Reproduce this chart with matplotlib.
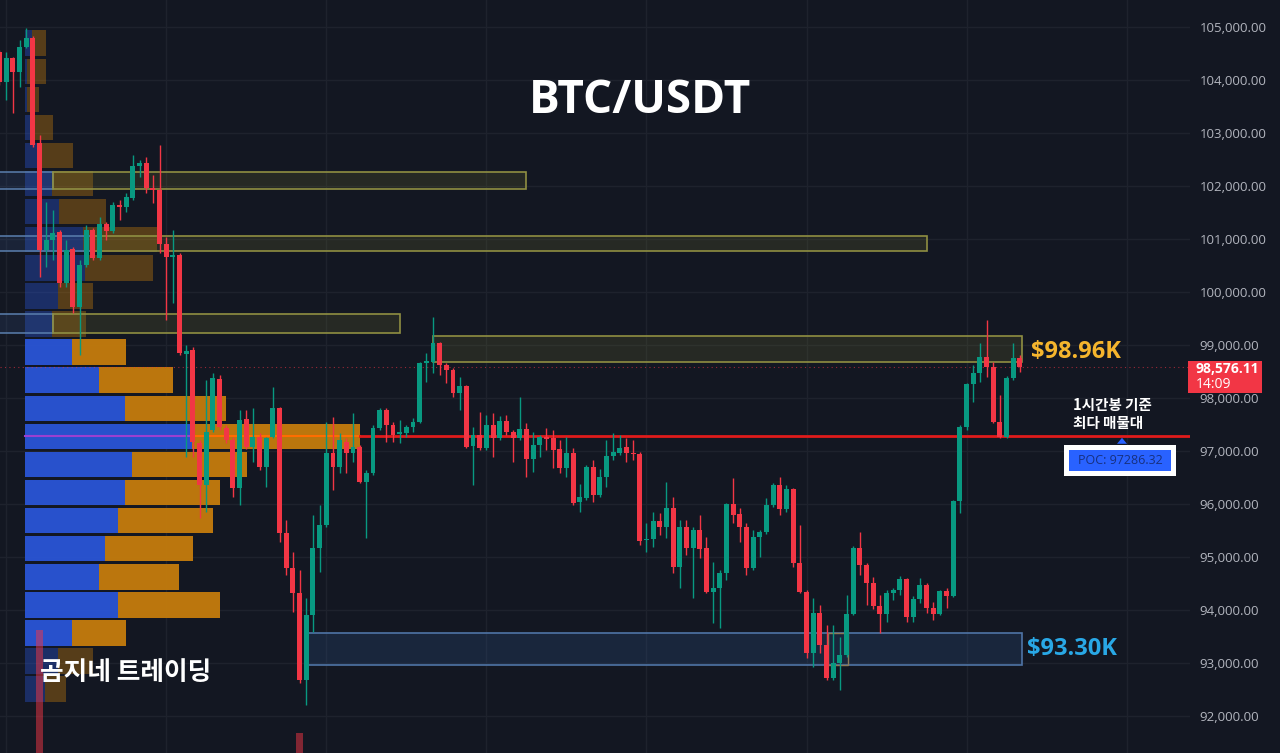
import numpy as np
import matplotlib.pyplot as plt
from matplotlib.patches import Rectangle, Polygon

plt.rcParams['font.family'] = ['Open Sans', 'Noto Sans CJK KR', 'DejaVu Sans']

# BTC/USDT 1h candles
opens = [104534, 103962, 104415, 104151, 104622, 104792, 102811, 100792, 100981, 101132,
         100170, 100811, 99717, 100509, 101169, 100641, 101283, 101150, 101641, 101603,
         101773, 102377, 102434, 101962, 101924, 100905, 100660, 100698, 98830, 98905,
         97150, 96358, 97396, 98358, 97433, 97207, 96301, 97603, 97075, 97264,
         96698, 97264, 97811, 95452, 94792, 94320, 92679, 93905, 95169, 95603,
         96962, 96698, 97169, 96962, 97075, 96415, 96585, 97433, 97773, 97490,
         97320, 97339, 97452, 97547, 98660, 98679, 99037, 98622, 98528, 98094,
         98226, 97094, 97301, 97056, 97490, 97245, 97566, 97358, 97245, 97415,
         96849, 97113, 97264, 97245, 97037, 96679, 96962, 96037, 96113, 96698,
         96169, 96509, 96905, 96962, 97075, 96962, 96943, 95320, 95339, 95679,
         95566, 95924, 94811, 95566, 95169, 95509, 95169, 94339, 94415, 94698,
         96000, 95811, 95566, 94792, 95377, 95471, 95981, 96358, 95905, 96283,
         94886, 94339, 93188, 93943, 93339, 92717, 93000, 93150, 93924, 95169,
         94849, 94509, 94075, 93924, 94320, 94377, 94584, 93867, 94207, 94471,
         94037, 93924, 94358, 94264, 96056, 97452, 98264, 98471, 98773, 98584,
         97547, 97264, 98377, 98754]
highs = [104566, 104528, 104434, 104755, 104981, 104830, 102962, 101698, 101547, 101169,
         100981, 100849, 100603, 101264, 101207, 101415, 101320, 101698, 101735, 101867,
         102585, 102490, 102547, 102207, 102773, 101037, 101169, 100736, 98999, 98962,
         97207, 98339, 98471, 98433, 97490, 97264, 97773, 97773, 97811, 97339,
         97264, 98207, 97830, 95698, 95094, 94754, 94226, 95792, 95981, 97547,
         97641, 97339, 97245, 97717, 97113, 96641, 97490, 97811, 97811, 97547,
         97584, 97490, 97622, 98679, 98849, 99528, 99056, 98660, 98566, 98396,
         98245, 97452, 97735, 97679, 97717, 97660, 97679, 97396, 98019, 97528,
         97358, 97301, 97433, 97396, 97207, 97264, 97056, 96377, 96736, 96830,
         96660, 97207, 97339, 97301, 97245, 97207, 96981, 95641, 95849, 95830,
         96415, 96132, 95698, 95698, 95566, 95792, 95377, 94905, 94754, 96010,
         96490, 95924, 95641, 95509, 95509, 96113, 96396, 96509, 96358, 96301,
         95603, 94377, 94226, 94094, 93716, 93716, 93490, 94283, 95207, 95471,
         94886, 94622, 94283, 94377, 94415, 94641, 94603, 94264, 94603, 94509,
         94150, 94377, 94415, 96075, 97490, 98283, 98622, 99037, 99471, 98679,
         98056, 98414, 99037, 98811]
lows = [103905, 103622, 103377, 103867, 104603, 102735, 100283, 100471, 100603, 100094,
        100094, 99603, 98811, 100471, 100603, 100603, 100981, 101113, 101358, 101509,
        101735, 102169, 101867, 101679, 100736, 99471, 99792, 98811, 96886, 96886,
        95735, 95849, 97358, 97396, 97150, 96132, 95981, 97037, 96792, 96641,
        96320, 97245, 95283, 94660, 93962, 92622, 92207, 93584, 94717, 95566,
        96264, 96585, 96585, 96792, 96396, 95358, 96547, 97396, 97169, 97169,
        97150, 97264, 97358, 97528, 98301, 98471, 98433, 98283, 98019, 97773,
        97056, 96358, 97018, 97018, 96886, 97207, 97301, 96792, 97207, 96509,
        96603, 96886, 97018, 96679, 96585, 96509, 95981, 95849, 96075, 96037,
        96132, 96320, 96830, 96924, 96792, 96830, 95226, 95094, 95188, 95415,
        95358, 94698, 94415, 95037, 94226, 94981, 94320, 93754, 93660, 94566,
        95641, 95283, 94660, 94754, 95000, 95434, 95943, 95792, 95849, 94811,
        94320, 93094, 92924, 93188, 92679, 92679, 92490, 93113, 93905, 94660,
        94094, 94019, 93566, 93773, 94188, 94283, 93773, 93773, 94132, 93943,
        93811, 93905, 94037, 94245, 95830, 97396, 97924, 98301, 98396, 97528,
        97245, 97245, 98339, 98490]
closes = [103968, 104415, 104151, 104622, 104792, 102773, 100792, 100981, 101113, 100170,
          100792, 99717, 100509, 101169, 100641, 101283, 101150, 101641, 101603, 101792,
          102377, 102434, 101962, 101924, 100905, 100660, 100698, 98849, 98886, 97169,
          96358, 97358, 98377, 97452, 97207, 96301, 97584, 97075, 97264, 96698,
          97245, 97811, 95452, 94792, 94320, 92679, 93905, 95169, 95603, 96962,
          96698, 97207, 96962, 97075, 96415, 96585, 97433, 97773, 97490, 97301,
          97358, 97452, 97547, 98660, 98698, 99037, 98622, 98528, 98094, 98226,
          97075, 97301, 97056, 97490, 97245, 97566, 97358, 97245, 97415, 96849,
          97113, 97264, 97226, 97018, 96679, 96962, 96018, 96132, 96698, 96169,
          96509, 96905, 96981, 97056, 96962, 96952, 95301, 95339, 95679, 95566,
          95924, 94811, 95566, 95169, 95509, 95150, 94339, 94415, 94698, 95990,
          95792, 95566, 94792, 95377, 95471, 95981, 96358, 95905, 96283, 94886,
          94339, 93188, 93943, 93339, 92717, 93000, 93150, 93924, 95169, 94849,
          94509, 94075, 93924, 94320, 94377, 94584, 93867, 94207, 94471, 94037,
          93924, 94358, 94264, 96056, 97452, 98264, 98471, 98773, 98584, 97547,
          97264, 98377, 98754, 98576.11]
last_time = "14:09"

# visible-range volume profile, rows bottom -> top
prof_low, prof_high = 92240, 104960
vol_up = [20, 33, 47, 93, 74, 80, 93, 100, 107, 167, 100, 74,
          47, 27, 33, 60, 58, 34, 27, 15, 10, 2, 2, 7]
vol_down = [21, 35, 54, 102, 80, 88, 95, 95, 115, 168, 101, 74,
            54, 34, 35, 68, 74, 47, 41, 33, 18, 12, 19, 14]
value_area = (2, 12)  # row range inside the value area
poc = 97286.32

# candle volume bars that show at the bottom
vol_idx = [6, 45]
vol_val = [6150, 1000]

# drawn zones: (start candle, end candle, low, high, left blue part end)
zones = [(0, 79, 101943, 102264, 8),
         (0, 139, 100773, 101056, 14),
         (0, 60, 99226, 99584, 8),
         (65, 153.3, 98679, 99169, None)]
support = (46, 153.3, 92962, 93566)
res_label, sup_label = "$98.96K", "$93.30K"

BG = '#131722'
GREEN = '#089981'
RED = '#f23645'
KR = ['Noto Sans CJK KR', 'DejaVu Sans']

fig = plt.figure(figsize=(12.8, 7.53), dpi=100, facecolor=BG)
ax = fig.add_axes([0, 0, 1190 / 1280, 1])
ax.set_facecolor(BG)
for s in ax.spines.values():
    s.set_visible(False)

n = len(opens)
idx = np.arange(n)
o = np.array(opens); h = np.array(highs); l = np.array(lows); c = np.array(closes)

# grid
ax.set_xticks(np.arange(1, 180, 24))
ax.set_yticks(np.arange(92000, 105001, 1000))
ax.grid(True, color='#1e222d', lw=1, zorder=0)
ax.tick_params(axis='x', length=0, labelbottom=False)
ax.yaxis.tick_right()
ax.tick_params(axis='y', length=0, pad=7, labelcolor='#b2b5be', labelsize=9.5)
ax.set_yticklabels([f"{v:,.2f}" for v in ax.get_yticks()])

# volume profile (x in axes fraction)
tr = ax.get_yaxis_transform()
step = (prof_high - prof_low) / len(vol_up)
vp_left = 25 / 1190
tot = np.array(vol_up) + np.array(vol_down)
scale = (335 / 1190) / tot.max()
for k in range(len(vol_up)):
    inside = value_area[0] <= k <= value_area[1]
    a = 0.95 if inside else 0.38
    y0 = prof_low + k * step + 25
    w_up = vol_up[k] * scale
    w_dn = vol_down[k] * scale
    ax.add_patch(Rectangle((vp_left, y0), w_up, step - 50, transform=tr,
                           facecolor='#2a55d6', alpha=a, lw=0, zorder=2))
    ax.add_patch(Rectangle((vp_left + w_up, y0), w_dn, step - 50, transform=tr,
                           facecolor='#c57c0c', alpha=a, lw=0, zorder=2))
k_poc = int((poc - prof_low) // step)
x_up = vp_left + vol_up[k_poc] * scale
x_end = x_up + vol_down[k_poc] * scale
ax.axhline(poc, xmin=vp_left, xmax=x_up, color='#9c3fd0', lw=1.5, zorder=3)
ax.axhline(poc, xmin=x_up, xmax=x_end, color='#ff6d00', lw=1.5, zorder=3)
ax.axhline(poc, xmin=x_end, xmax=1, color='#e01b1b', lw=2, zorder=3)

# zones
for i0, i1, lo, hi, blue_end in zones:
    ys = i0 if blue_end is None else blue_end
    if blue_end is not None:
        ax.add_patch(Rectangle((i0 - 1, lo), blue_end - i0 + 1, hi - lo, facecolor='#3a5f9a',
                               alpha=0.18, lw=0, zorder=3))
        ax.add_patch(Rectangle((i0 - 1, lo), blue_end - i0 + 1, hi - lo, fill=False,
                               edgecolor='#5a7fae', lw=1.1, zorder=3))
    ax.add_patch(Rectangle((ys, lo), i1 - ys, hi - lo, facecolor='#6b6b2e',
                           alpha=0.22, lw=0, zorder=3))
    ax.add_patch(Rectangle((ys, lo), i1 - ys, hi - lo, fill=False,
                           edgecolor='#8f8f42', lw=1.2, zorder=3))
i0, i1, lo, hi = support
ax.add_patch(Rectangle((i0, lo), i1 - i0, hi - lo, facecolor='#2a4a7a', alpha=0.3, lw=0, zorder=3))
ax.add_patch(Rectangle((i0, lo), i1 - i0, hi - lo, fill=False, edgecolor='#4f74a6', lw=1.2, zorder=3))
ax.add_patch(Rectangle((124.2, lo), 3, hi - lo, fill=False, edgecolor='#8c7a55', lw=1, zorder=3))

# last price line
ax.axhline(c[-1], color=RED, lw=0.8, ls=(0, (1, 3)), alpha=0.6, zorder=3)

# candles
up = c >= o
cols = np.where(up, GREEN, RED)
ax.vlines(idx, l, h, colors=cols, lw=1, zorder=4)
body = np.maximum(np.abs(c - o), 18)
ax.bar(idx, body, bottom=np.minimum(o, c), width=0.74, color=cols, lw=0, zorder=5)

ax.set_xlim(0.075, 178.5)
ax.set_ylim(91301, 105509)

# volume bars
vax = fig.add_axes([0, 0, 1190 / 1280, 200 / 753])
vax.set_xlim(0.075, 178.5)
vax.set_ylim(0, 10000)
vax.axis('off')
vax.bar(vol_idx, vol_val, width=1.0, color=RED, alpha=0.5, lw=0)

# overlay in pixel coords for labels
ov = fig.add_axes([0, 0, 1, 1])
ov.set_xlim(0, 1280)
ov.set_ylim(0, 753)
ov.axis('off')


def py(p):
    return ax.transData.transform((0, p))[1]


ov.text(640, 753 - 100, "BTC/USDT", color='white', fontsize=33, fontweight='bold',
        ha='center', va='center')
ov.text(40, 753 - 673, "곰지네 트레이딩", color='white', fontsize=18.5, fontweight='bold',
        ha='left', va='center', family=KR)
ov.text(1031, py((zones[3][2] + zones[3][3]) / 2) - 3, res_label, color='#f5b52d',
        fontsize=17, fontweight='bold', ha='left', va='center')
ov.text(1027, py((support[2] + support[3]) / 2), sup_label, color='#29a8e6',
        fontsize=17, fontweight='bold', ha='left', va='center')

yp = py(poc)
ov.text(1073, yp + 31, "1시간봉 기준", color='white', fontsize=10.5, fontweight='bold',
        ha='left', va='center', family=KR)
ov.text(1073, yp + 13, "최다 매물대", color='white', fontsize=10.5, fontweight='bold',
        ha='left', va='center', family=KR)
ov.add_patch(Polygon([[1117, yp - 8], [1127, yp - 8], [1122, yp - 2]], closed=True,
                     facecolor='#2962ff', lw=0))
ov.add_patch(Rectangle((1064, yp - 40), 112, 31, facecolor='white', lw=0))
ov.add_patch(Rectangle((1069, yp - 35), 102, 21, facecolor='#2962ff', lw=0))
ov.text(1120, yp - 24.5, f"POC: {poc:.2f}", color='#17307f', fontsize=9,
        ha='center', va='center')

yl = py(c[-1])
ov.add_patch(Rectangle((1188, yl - 25.5), 74, 32, facecolor=RED, lw=0))
ov.text(1196, yl - 1.5, f"{c[-1]:,.2f}", color='white', fontsize=10, fontweight='bold',
        ha='left', va='center')
ov.text(1196, yl - 17.5, last_time, color='white', fontsize=10, ha='left', va='center')

fig.savefig('out.png', dpi=100, facecolor=BG)
